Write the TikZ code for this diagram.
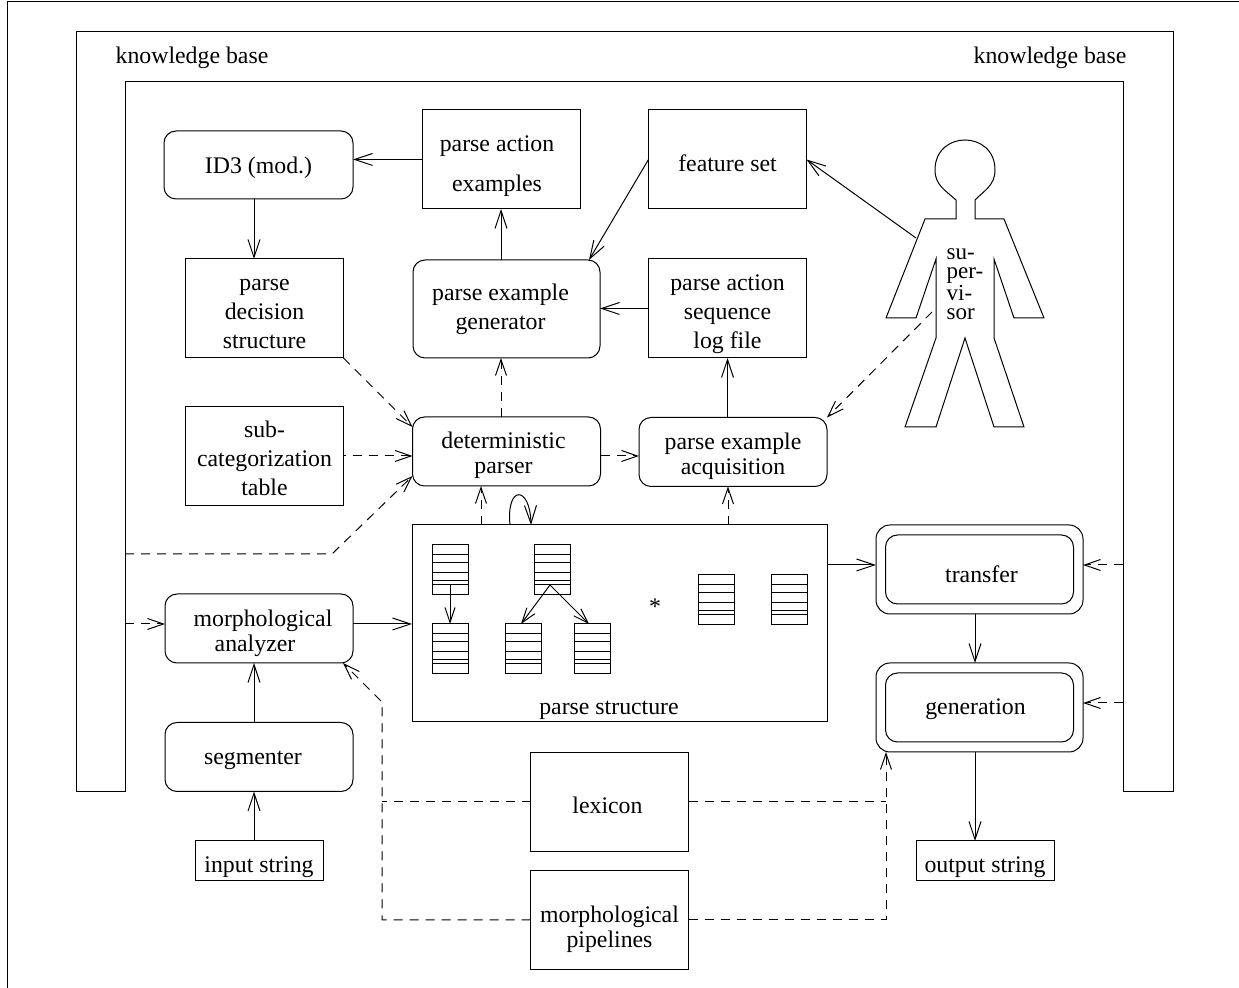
\documentclass[tikz,border=0pt]{standalone}
\usepackage{fontspec}
\setmainfont{Liberation Serif}
\usetikzlibrary{positioning,calc,arrows.meta}

\newcommand{\lowtext}[2][2.3pt]{\raisebox{-#1}[\height][\depth]{\begin{tabular}{@{}c@{}}#2\end{tabular}}}

\tikzset{
  every node/.style={font=\fontsize{11.9}{14.5}\selectfont,inner sep=0pt,outer sep=0pt},
  sized/.style 2 args={minimum width=#1*0.5pt,minimum height=#2*0.5pt},
  plainbox/.style={draw,sized={158}{99}},
  roundbox/.style={draw,rounded corners=6pt,sized={188}{69}},
  dblbox/.style={draw,rounded corners=7pt,sized={207}{89}},
  stackbox/.style={draw,sized={36}{50}},
  stringbox/.style={draw,sized={#1}{40}},
  dep/.style={dash pattern=on 4.5pt off 3.5pt},
  arrowedges/.style={every edge/.append style={draw,->}},
  >={Straight Barb[length=9pt,width=6pt]}
}

\begin{document}
\begin{tikzpicture}[x=0.5pt,y=-0.5pt,line width=0.5pt]
      \useasboundingbox (0,0) rectangle (1239,988);
      \draw (7,988) -- (7,2) -- (1239,2);

      % knowledge base frame
      \draw (76,792) -- (76,32) -- (1173,32) -- (1173,792) -- (1123,792) -- (1123,82)
        -- (125,82) -- (125,792) -- cycle;
      \node (kbleft) at (192,53) {\lowtext{knowledge base}};
      \node (kbright) at (1050,53) {\lowtext{knowledge base}};
      \coordinate (kbA) at (125,554);
      \coordinate (kbB) at (125,624);
      \coordinate (kbC) at (1123,565);
      \coordinate (kbD) at (1123,703);

      % boxes
      \node[roundbox,sized={189}{68}] (id3) at (258.5,165) {\lowtext[1.3pt]{ID3 (mod.)}};
      \node[plainbox] (pae) at (501,159.5) {\lowtext[3.3pt]{parse action\\[5.5pt]examples}\hspace*{4pt}};
      \node[plainbox] (fs) at (727.5,159.5) {\lowtext[3.3pt]{feature set}};
      \node[plainbox] (pds) at (264.5,308.5) {\lowtext[2.8pt]{parse\\decision\\structure}};
      \node[roundbox,sized={187}{98}] (peg) at (506.5,309) {\lowtext[0.1pt]{parse example\\generator}\hspace*{6pt}};
      \node[plainbox] (log) at (727.5,308.5) {\lowtext[2.8pt]{parse action\\sequence\\log file}};
      \node[plainbox] (sub) at (264.5,456) {\lowtext[2.6pt]{sub-\\categorization\\table}};
      \node[roundbox] (det) at (506.5,451.5) {\lowtext[1.8pt]{deterministic\\[-2pt]parser}\hspace*{3pt}};
      \node[roundbox] (acq) at (733,452) {\lowtext{parse example\\[-2pt]acquisition}};
      \node[draw,sized={415}{197}] (ps) at (619.5,623.5) {};
      \node (pstext) at (609,704) {\lowtext{parse structure}};
      \node[roundbox] (morph) at (259,628.5) {\lowtext{\hspace*{4pt}morphological\\[-2pt]analyzer\hspace*{4pt}}};
      \node[roundbox] (seg) at (259,757) {\lowtext[0.8pt]{segmenter}\hspace*{6pt}};
      \node[stringbox=128] (inp) at (259,861) {\lowtext[2.8pt]{input string}};
      \node[stringbox=138] (out) at (985,861) {\lowtext[2.8pt]{output string}};
      \node[plainbox] (lex) at (609.5,802) {\lowtext[2.8pt]{lexicon}\hspace*{2pt}};
      \node[plainbox] (pipe) at (609.5,920) {\lowtext[4.8pt]{morphological\\[-2pt]pipelines}};

      % double boxes
      \node[dblbox] (tro) at (979.5,569.5) {};
      \node[roundbox] (tri) at (tro) {\hspace*{2pt}\lowtext[3.8pt]{transfer}};
      \node[dblbox] (geno) at (979.5,707.5) {};
      \node[roundbox] (geni) at (geno) {\lowtext[0.8pt]{generation}\hspace*{4pt}};

      % stacks in the parse structure
      \foreach \name/\x/\y in {sa/450/570,sb/450/649,sc/552/570,sd/523/649,se/592/649,sf/716/600,sg/789/600}{
        \node[stackbox] (\name) at (\x,\y) {};
        \foreach \d in {10,18,28,36,40}
          \draw ($(\name.north west)+(0,\d)$) -- ($(\name.north east)+(0,\d)$);
      }
      \node (star) at (655,607) {*};

      % supervisor
      \draw (956,200) .. controls (945,190) and (935,185) .. (935,170)
        .. controls (935,150) and (950,140) .. (965,140)
        .. controls (980,140) and (995,150) .. (995,170)
        .. controls (995,185) and (985,190) .. (975,200)
        -- (975,219) -- (1004,219) -- (1044,318) -- (1014,318) -- (994,259) -- (994,338)
        -- (1024,427) -- (994,427) -- (965,338) -- (936,427) -- (905,427) -- (936,338)
        -- (936,259) -- (916,318) -- (886,318) -- (925,219) -- (956,219) -- cycle;
      \node[align=left,font=\fontsize{11.5}{9.6}\selectfont] (sup) at (965,284) {su-\\per-\\vi-\\sor};
      \coordinate (supA) at (916,238);
      \coordinate (supB) at (932,312);

      % dashed corners
      \coordinate (kbE) at (332,554);
      \coordinate (lv) at (382,702);
      \coordinate (rv) at (886,920);

      \path[arrowedges]
      (pae.west) edge (pae.west -| id3.east)
      ($(id3.south)+(-4.5,0)$) edge ($(pds.north)+(-10.5,0)$)
      (pae.south |- peg.north) edge (pae.south)
      (fs.west) edge ($(peg.north)+(82.5,0)$)
      (log.west) edge (log.west -| peg.east)
      (log.south |- acq.north) edge (log.south)
      (supA) edge (fs.east)
      (kbB -| morph.east) edge (kbB -| ps.west)
      ($(seg.north)+(-5,0)$) edge ($(morph.south)+(-5,0)$)
      ($(inp.north)+(-5,0)$) edge ($(seg.south)+(-5,0)$)
      (kbC -| ps.east) edge (kbC -| tro.west)
      ($(tro.south)+(-4.5,0)$) edge ($(geno.north)+(-4.5,0)$)
      ($(geno.south)+(-4.5,0)$) edge ($(out.north)+(-10,0)$);

      \draw[->] ($(ps.north west)+(98,0)$) .. controls (506,485) and (530,485) .. ($(ps.north west)+(119,0)$);

      \path[arrowedges,>={Straight Barb[length=7.5pt,width=5pt]}]
      ($(sa.north)+(0,40)$) edge (sb.north)
      ($(sc.north)+(-2,40)$) edge ($(sd.north)+(-2,0)$)
      ($(sc.north)+(-2,40)$) edge ($(se.north)+(-3,0)$);

      \path[arrowedges,dep,>={Straight Barb[length=8pt,width=5.5pt]}]
      (pae.south |- det.north) edge (pae.south |- peg.south)
      (pds.south east) edge ($(det.north west)+(0,10)$)
      (sub.east) edge[dash phase=3.5pt] (sub.east -| det.west)
      (sub.east -| det.east) edge (sub.east -| acq.west)
      ($(ps.north west)+(69,0)$) edge ($(det.south)+(-25.5,0)$)
      ($(ps.north west)+(316,0)$) edge ($(acq.south)+(-5,0)$)
      (supB) edge (acq.north east)
      (kbB) edge (kbB -| morph.west)
      (kbC) edge (kbC -| tro.east)
      (kbD) edge (kbD -| geno.east);

      \draw[->,dep,>={Straight Barb[length=8pt,width=5.5pt]}]
        (kbA) -- (kbE) -- ($(det.south west)+(0,-10)$);
      \draw[->,dep,>={Straight Barb[length=8pt,width=5.5pt]}]
        (pipe.west) -- (pipe.west -| lv) -- (lv) -- ($(morph.south east)+(-10,0)$);
      \draw[->,dep,>={Straight Barb[length=8pt,width=5.5pt]}]
        (pipe.east) -- (rv) -- ($(geno.south west)+(10,0)$);
      \draw[dep] (lex.west) -- (lex.west -| lv);
      \draw[dep] (lex.east) -- (lex.east -| rv);
    \end{tikzpicture}
\end{document}
